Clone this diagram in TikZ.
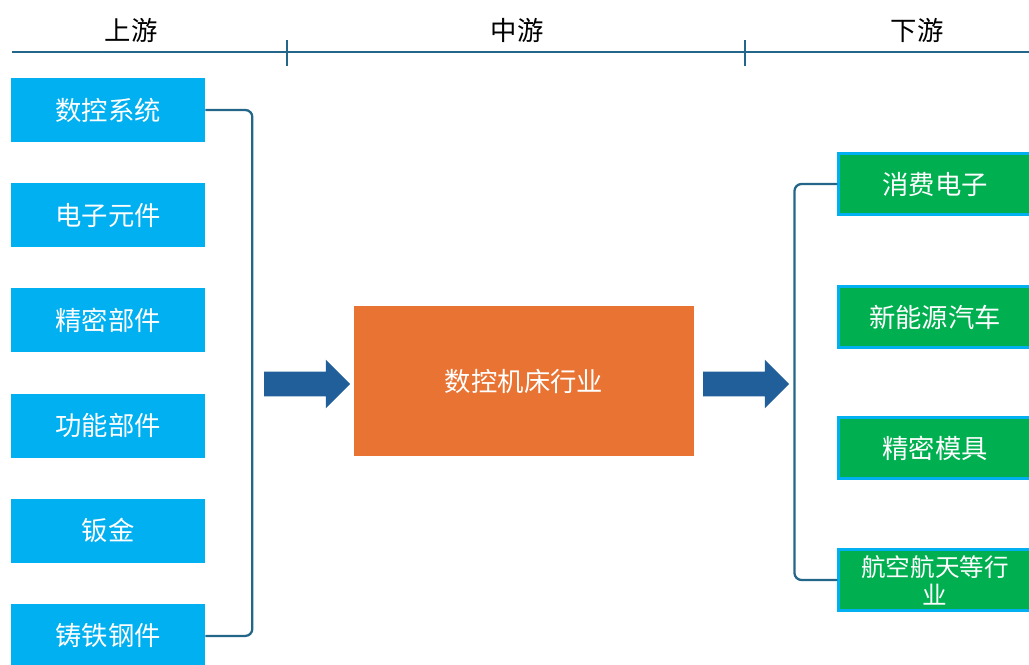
\documentclass[tikz,border=0pt]{standalone}
\usepackage{fontspec}
\setmainfont{Noto Sans CJK SC}
\usetikzlibrary{positioning, shapes.arrows}
\definecolor{upBlue}{HTML}{00B0F0}
\definecolor{midOrange}{HTML}{E97333}
\definecolor{downGreen}{HTML}{00B050}
\definecolor{lineBlue}{HTML}{24668A}
\definecolor{arrowBlue}{HTML}{215F9A}
\tikzstyle{upbox} =[fill=upBlue, text=white, minimum width=3.88cm, minimum height=1.28cm, inner sep=0pt, font=\fontsize{15}{18}\selectfont]
\tikzstyle{downbox} =[fill=downGreen, draw=upBlue, line width=1.2pt, text=white, minimum width=3.86cm, minimum height=1.22cm, inner sep=0pt, align=center, font=\fontsize{15}{16}\selectfont]
\tikzstyle{bigarrow} =[single arrow, fill=arrowBlue, minimum height=1.72cm, minimum width=0.96cm, single arrow head extend=0.24cm, single arrow tip angle=90, inner xsep=0pt, inner ysep=0.24cm]
\tikzstyle{bracket} =[draw=lineBlue, line width=1.3pt, rounded corners=4pt]

\begin{document}
\begin{tikzpicture}[x=0.02cm, y=-0.02cm]
\useasboundingbox (0,0) rectangle (1029,664);

% stage headings
\node (upTitle) [font=\fontsize{15}{18}\selectfont] at (131,30) {上游};
\node (midTitle) [font=\fontsize{15}{18}\selectfont] at (517,30) {中游};
\node (downTitle) [font=\fontsize{15}{18}\selectfont] at (917,30) {下游};

\coordinate (lineStart) at (12,52);
\coordinate (lineEnd) at (1029,52);
\draw[lineBlue, line width=1.6pt] (lineStart) -- (lineEnd);
\draw[lineBlue, line width=1.6pt] (287,40) -- (287,66);
\draw[lineBlue, line width=1.6pt] (745,40) -- (745,66);

% upstream
\node (upSys) [upbox] at (108,110) {数控系统};
\node (upElec) [upbox, below=0.81cm of upSys] {电子元件};
\node (upPrec) [upbox, below=0.81cm of upElec] {精密部件};
\node (upFunc) [upbox, below=0.81cm of upPrec] {功能部件};
\node (upSheet) [upbox, below=0.81cm of upFunc] {钣金};
\node (upCast) [upbox, below=0.81cm of upSheet] {铸铁钢件};

\draw[bracket] (upSys.east) -- ++(47,0) |- (upCast.east);

% midstream
\node (arrowIn) [bigarrow] at (301,384) {};
\node (cnc) [fill=midOrange, text=white, minimum width=6.8cm, minimum height=3.02cm, inner sep=0pt, font=\fontsize{15}{18}\selectfont] at (524,381) {数控机床行业};
\node (arrowOut) [bigarrow] at (740,384) {};

% downstream
\node (dnCons) [downbox] at (935,184) {消费电子};
\node (dnEv) [downbox] at (935,317) {新能源汽车};
\node (dnMold) [downbox] at (935,448) {精密模具};
\node (dnAero) [downbox, font=\fontsize{14}{16}\selectfont] at (935,580) {航空航天等行\\业};

\draw[bracket] (dnCons.west) -- ++(-43,0) |- (dnAero.west);

\end{tikzpicture}
\end{document}
